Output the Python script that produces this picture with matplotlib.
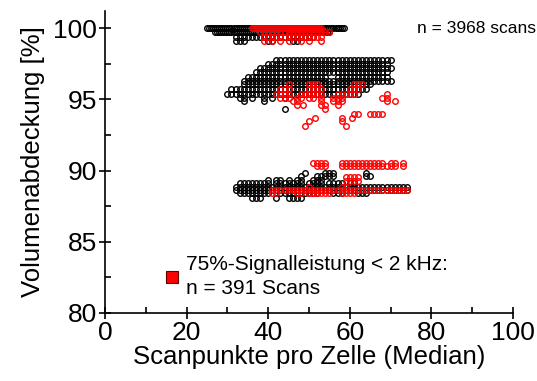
import numpy as np
import matplotlib.pyplot as plt
from matplotlib.ticker import MultipleLocator

plt.rcParams['font.family'] = ['Liberation Sans', 'DejaVu Sans']

# rows of scans: (volume coverage %, [(first x, last x), ...]) - x in steps of 1
black_rows = [
    (100.0, [(25, 58), (25.5, 58.5)]),
    (99.7, [(27, 55), (27.5, 54.5)]),
    (99.4, [(32, 51)]),
    (99.1, [(32, 34), (40, 41), (46, 47)]),
    (97.75, [(42, 70)]),
    (97.45, [(40, 69)]),
    (97.2, [(38, 70)]),
    (96.9, [(37, 69)]),
    (96.6, [(35, 54), (57, 69)]),
    (96.3, [(34, 70)]),
    (96.05, [(34, 65)]),
    (95.75, [(31, 64)]),
    (95.4, [(30, 62)]),
    (95.1, [(33, 34), (36, 36), (39, 39), (41, 41), (44, 44)]),
    (94.85, [(34, 34), (39, 39)]),
    (94.3, [(44, 44)]),
    (89.8, [(49, 49), (54, 56), (64, 64)]),
    (89.6, [(48, 48), (52, 56), (64, 65)]),
    (89.35, [(40, 40), (42, 43), (45, 45), (47, 48), (51, 53)]),
    (89.1, [(33, 40), (42, 48), (50, 53), (55, 58), (60, 61)]),
    (88.85, [(32, 74)]),
    (88.6, [(32, 74)]),
    (88.4, [(33, 40), (43, 46), (49, 52), (56, 58), (62, 64)]),
    (88.1, [(36, 38), (42, 42), (45, 48)]),
]

red_rows = [
    (100.0, [(36, 53), (36.5, 52.5)]),
    (99.7, [(38, 55)]),
    (99.4, [(39, 53)]),
    (99.1, [(39, 39), (41, 41), (43, 43), (45, 45), (48, 48), (50, 50), (53, 53)]),
    (96.05, [(45, 45), (50, 52), (61, 63)]),
    (95.75, [(43, 45), (50, 53), (60, 62)]),
    (95.4, [(42, 45), (48, 53), (57, 61), (69, 69)]),
    (95.1, [(43, 45), (47, 48), (50, 51), (53, 53), (56, 58), (68, 69)]),
    (94.85, [(46, 47), (53, 53), (56, 58), (69, 69), (71, 71)]),
    (94.6, [(47, 47), (48.5, 48.5), (53, 54), (57, 57)]),
    (94.3, [(54, 54)]),
    (94.0, [(61, 62), (65, 68)]),
    (93.7, [(51.5, 51.5), (58, 58), (60.5, 61)]),
    (93.45, [(50, 50), (58, 58)]),
    (93.15, [(49, 49), (59, 59)]),
    (90.55, [(51, 54), (58, 60), (61, 63), (64, 67), (68, 68), (70, 71), (73, 73)]),
    (90.3, [(52, 54), (58, 71), (73, 73)]),
    (89.55, [(59, 62)]),
    (89.3, [(59, 62)]),
    (88.85, [(50, 50), (58, 59)]),
    (88.6, [(41, 74)]),
    (88.4, [(41, 42), (47, 48), (50, 55), (58, 61)]),
]

n_total = 3968
n_low = 391


def expand(rows):
    xs, ys = [], []
    for y, runs in rows:
        for x0, x1 in runs:
            seg = np.arange(x0, x1 + 0.01, 1.0)
            xs.extend(seg)
            ys.extend([y] * len(seg))
    return np.array(xs), np.array(ys)


bx, by = expand(black_rows)
rx, ry = expand(red_rows)

fig = plt.figure(figsize=(5.37, 3.81), dpi=100)
ax = fig.add_axes([0.1955, 0.1785, 0.7598, 0.7927])

ax.plot(bx, by, 'o', ms=4.0, mfc='none', mec='black', mew=1.0, clip_on=False)
ax.plot(rx, ry, 'o', ms=4.0, mfc='none', mec='red', mew=1.0, clip_on=False)

ax.set_xlim(0, 100)
ax.set_ylim(80, 101.2)
ax.spines['top'].set_visible(False)
ax.spines['right'].set_visible(False)
for s in ('left', 'bottom'):
    ax.spines[s].set_linewidth(1.2)

ax.xaxis.set_major_locator(MultipleLocator(20))
ax.xaxis.set_minor_locator(MultipleLocator(10))
ax.yaxis.set_major_locator(MultipleLocator(5))
ax.yaxis.set_minor_locator(MultipleLocator(2.5))
ax.tick_params(which='major', direction='inout', length=9, width=1.2,
               labelsize=19, pad=1)
ax.tick_params(which='minor', direction='in', length=4, width=1.2)

ax.set_xlabel('Scanpunkte pro Zelle (Median)', fontsize=18.5, labelpad=0)
ax.set_ylabel('Volumenabdeckung [%]', fontsize=18.5, labelpad=6)

ax.text(76.5, 100, f'n = {n_total} scans', fontsize=12.5, va='center',
        ha='left', clip_on=False)

ax.plot([16.4], [82.5], 's', ms=8, mfc='red', mec='#600000', mew=0.8)
ax.text(19.8, 82.55, f'75%-Signalleistung < 2 kHz:\nn = {n_low} Scans',
        fontsize=15, va='center', ha='left', linespacing=1.3)

fig.savefig('out.png', dpi=100)
